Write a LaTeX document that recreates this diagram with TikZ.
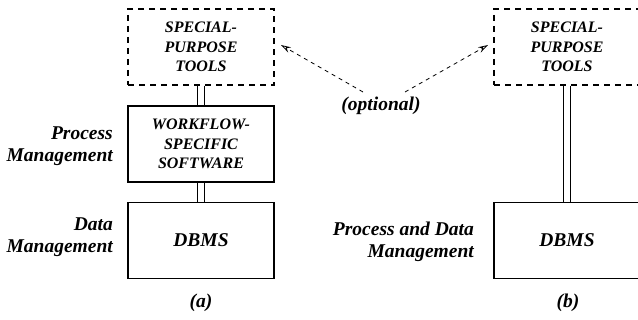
\documentclass[tikz,border=0pt]{standalone}
\usepackage{fontspec}
\setmainfont{Liberation Serif}[
  BoldFont={Liberation Serif Bold},
  ItalicFont={Liberation Serif Italic},
  BoldItalicFont={Liberation Serif Bold Italic}]
\usetikzlibrary{arrows.meta,positioning,calc}

\tikzset{
  box/.style={draw,line width=1.3pt,minimum width=146pt,minimum height=76pt,
    inner sep=0pt,align=center},
  optbox/.style={box,dash pattern=on 6pt off 5pt},
  small/.style={font=\fontsize{16}{19.5}\selectfont\bfseries\itshape},
  link/.style={draw,line width=1.1pt},
  hint/.style={draw,line width=0.8pt,dash pattern=on 4pt off 4pt,
    -{Stealth[open,length=10pt,width=6pt,inset=3.5pt]}},
  lbl/.style={align=right,inner sep=0pt}
}

\begin{document}
\begin{tikzpicture}[x=1pt,y=-1pt,
  every node/.style={font=\fontsize{19.5}{22}\selectfont\bfseries\itshape}]
 \useasboundingbox (0,0) rectangle (638,320);

 % (a)
 \node[optbox,small] (sptA) at (201,47) {SPECIAL-\\PURPOSE\\TOOLS};
 \node[box,small] (wfs) at (201,144) {WORKFLOW-\\SPECIFIC\\SOFTWARE};
 \node[box] (dbmsA) at (201,240.5) {DBMS};
 \node[lbl,anchor=east] (pm) at (113,146) {Process\\Management};
 \node[lbl,anchor=east] (dm) at (113,237) {Data\\Management};
 \node (a) at (201,303) {(a)};

 % (b)
 \node[optbox,small] (sptB) at (567,47) {SPECIAL-\\PURPOSE\\TOOLS};
 \node[box] (dbmsB) at (567,240.5) {DBMS};
 \node[lbl,anchor=east] (pdm) at (474,242) {Process and Data\\Management};
 \node (b) at (568,303) {(b)};

 \node (opt) at (381,106) {(optional)};
 \coordinate (optL) at (363,92);
 \coordinate (optR) at (405,92);
 \coordinate (tipA) at (281,45);
 \coordinate (tipB) at (488,45);

\foreach \f/\t in {sptA/wfs,wfs/dbmsA,sptB/dbmsB}
 \foreach \s in {-3.5,3.5}
  \path[link] ([xshift=\s pt]\f.south) -- ([xshift=\s pt]\t.north);
\foreach \f/\t in {optL/tipA,optR/tipB}
 \path[hint] (\f) -- (\t);
\end{tikzpicture}
\end{document}
